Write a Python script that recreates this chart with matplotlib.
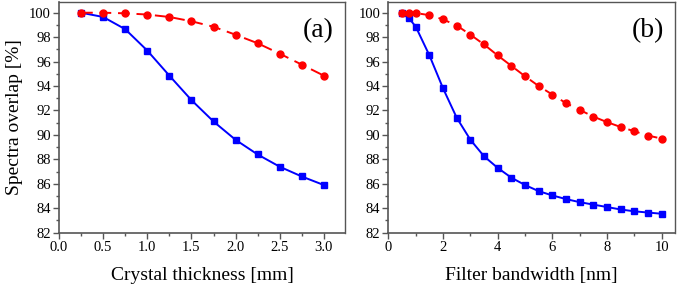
import numpy as np
import matplotlib; matplotlib.use('Agg')
import matplotlib.pyplot as plt
from matplotlib.ticker import MultipleLocator, FormatStrFormatter

plt.rcParams['font.family'] = ['Liberation Serif', 'DejaVu Serif']
plt.rcParams['mathtext.fontset'] = 'stix'

# (a) crystal thickness
thick_x = [0.25, 0.5, 0.75, 1.0, 1.25, 1.5, 1.75, 2.0, 2.25, 2.5, 2.75, 3.0]
thick_blue = [100.0, 99.65, 98.65, 96.9, 94.85, 92.85, 91.1, 89.6, 88.4, 87.4, 86.6, 85.9]
thick_red = [100.0, 100.0, 99.95, 99.85, 99.65, 99.3, 98.85, 98.2, 97.5, 96.65, 95.75, 94.85]

# (b) filter bandwidth
bw_x = [0.5, 0.75, 1.0, 1.5, 2.0, 2.5, 3.0, 3.5, 4.0, 4.5, 5.0, 5.5, 6.0, 6.5,
        7.0, 7.5, 8.0, 8.5, 9.0, 9.5, 10.0]
bw_blue = [99.95, 99.55, 98.85, 96.5, 93.8, 91.4, 89.6, 88.25, 87.3, 86.5, 85.9,
           85.4, 85.05, 84.75, 84.5, 84.3, 84.1, 83.9, 83.75, 83.65, 83.55]
bw_red = [100.0, 100.0, 99.97, 99.8, 99.45, 98.95, 98.2, 97.4, 96.5, 95.65, 94.8,
          94.0, 93.3, 92.6, 92.05, 91.5, 91.05, 90.65, 90.3, 89.95, 89.7]

fig = plt.figure(figsize=(6.92, 2.85), dpi=100)
ax1 = fig.add_axes([0.0853, 0.1835, 0.4133, 0.8105])
ax2 = fig.add_axes([0.5614, 0.1835, 0.4140, 0.8105])

FRAME = '#555555'

def style(ax):
    for s in ax.spines.values():
        s.set_color(FRAME)
        s.set_linewidth(1.0)
    ax.spines['left'].set_linewidth(1.2)
    ax.spines['bottom'].set_linewidth(1.2)
    ax.tick_params(which='both', direction='out', color=FRAME, labelsize=10.5,
                   top=False, right=False, pad=2)
    ax.tick_params(which='major', length=4, width=1)
    ax.tick_params(which='minor', length=2.5, width=1)
    ax.set_ylim(82, 100.9)
    ax.yaxis.set_major_locator(MultipleLocator(2))
    ax.yaxis.set_minor_locator(MultipleLocator(1))

ax1.plot(thick_x, thick_blue, '-s', color='#0000ff', lw=1.4, ms=4.5)
ax1.plot(thick_x, thick_red, '--o', color='#ff0000', lw=1.4, ms=5, dashes=(6, 3.5))
style(ax1)
ax1.set_xlim(0, 3.24)
ax1.xaxis.set_major_locator(MultipleLocator(0.5))
ax1.xaxis.set_minor_locator(MultipleLocator(0.25))
ax1.xaxis.set_major_formatter(FormatStrFormatter('%.1f'))
ax1.set_xlabel('Crystal thickness [mm]', fontsize=14, labelpad=9)
ax1.set_ylabel('Spectra overlap [%]', fontsize=14, labelpad=4)
ax1.text(0.905, 0.875, '(a)', transform=ax1.transAxes, fontsize=20,
         ha='center', va='center')

ax2.plot(bw_x, bw_blue, '-s', color='#0000ff', lw=1.4, ms=4.5)
ax2.plot(bw_x, bw_red, '--o', color='#ff0000', lw=1.4, ms=5, dashes=(6, 3.5))
style(ax2)
ax2.set_xlim(0, 10.49)
ax2.xaxis.set_major_locator(MultipleLocator(2))
ax2.xaxis.set_minor_locator(MultipleLocator(1))
ax2.set_xlabel('Filter bandwidth [nm]', fontsize=14, labelpad=9)
ax2.text(0.905, 0.875, '(b)', transform=ax2.transAxes, fontsize=20,
         ha='center', va='center')

fig.savefig('out.png', dpi=100)
